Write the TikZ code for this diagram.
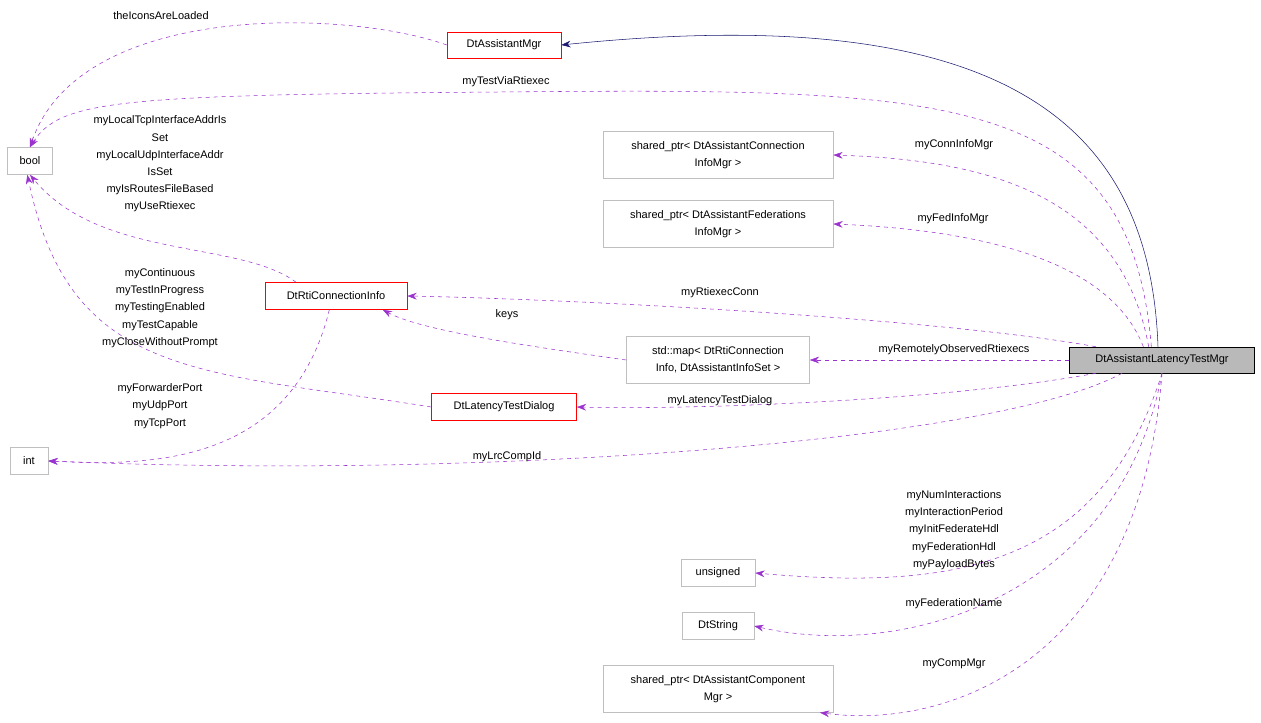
\documentclass[tikz,border=0pt]{standalone}
\usepackage{fontspec}
\setmainfont{Liberation Sans}
\usetikzlibrary{arrows.meta}
\definecolor{dep}{HTML}{9A32CD}
\definecolor{inh}{HTML}{191970}
\begin{document}
\begin{tikzpicture}[x=0.75pt,y=-0.75pt,
  every node/.style={font=\fontsize{8.25}{12.9}\selectfont},
  box/.style={draw=gray!50,fill=white,inner sep=0pt,align=center},
  rbox/.style={draw=red,fill=white,inner sep=0pt,align=center},
  lab/.style={align=center,inner sep=0pt},
  dep/.style={draw=dep,dashed,-{Stealth[length=7pt,width=5pt]}},
  inh/.style={draw=inh,-{Stealth[length=7pt,width=5pt]}}]
\useasboundingbox (0,0) rectangle (1261,723);
\node[draw=black,fill=gray!55,inner sep=0pt,minimum width=138.75pt,minimum height=19.5pt] (L) at (1162,360) {DtAssistantLatencyTestMgr};
\node[rbox,minimum width=85.5pt,minimum height=19.5pt] (AM) at (504,45) {DtAssistantMgr};
\node[box,minimum width=33.75pt,minimum height=20.25pt] (B) at (30,161) {bool};
\node[box,minimum width=172.5pt,minimum height=35pt] (SP1) at (718,155) {shared\_ptr< DtAssistantConnection\\InfoMgr >};
\node[box,minimum width=172.5pt,minimum height=35pt] (SP2) at (718,224) {shared\_ptr< DtAssistantFederations\\InfoMgr >};
\node[rbox,minimum width=106.5pt,minimum height=20.25pt] (R) at (336,296) {DtRtiConnectionInfo};
\node[box,minimum width=137.25pt,minimum height=35pt] (M) at (718,360) {std::map< DtRtiConnection\\Info, DtAssistantInfoSet >};
\node[rbox,minimum width=108.75pt,minimum height=20.25pt] (D) at (504,407) {DtLatencyTestDialog};
\node[box,minimum width=28.5pt,minimum height=20.25pt] (I) at (29,461) {int};
\node[box,minimum width=55.5pt,minimum height=20.25pt] (U) at (718,573) {unsigned};
\node[box,minimum width=54pt,minimum height=20.25pt] (S) at (718,626) {DtString};
\node[box,minimum width=172.5pt,minimum height=35pt] (C) at (718,689) {shared\_ptr< DtAssistantComponent\\Mgr >};

\draw[inh] ([xshift=-3pt]L.north) .. controls (1150,120) and (1000,0) .. (AM.east);
\draw[dep] (AM.west) .. controls (350,10) and (80,0) .. (B.north);
\draw[dep] ([xshift=-8pt]L.north) .. controls (1130,90) and (950,88) .. (500,92) .. controls (120,95) and (60,100) .. (B.north);
\draw[dep] ([xshift=-10pt]L.north) .. controls (1120,190) and (980,160) .. (SP1.east);
\draw[dep] ([xshift=-14pt]L.north) .. controls (1110,260) and (980,230) .. (SP2.east);
\draw[dep] ([xshift=20pt]L.north west) .. controls (950,320) and (600,300) .. (R.east);
\draw[dep] (L.west) -- (M.east);
\draw[dep] (M.west) .. controls (520,345) and (420,330) .. ([xshift=35pt]R.south);
\draw[dep] ([xshift=20pt]L.south west) .. controls (950,400) and (700,410) .. (D.east);
\draw[dep] ([xshift=-30pt]L.south) .. controls (1000,440) and (500,480) .. (I.east);
\draw[dep] (L.south) .. controls (1100,570) and (950,590) .. (U.east);
\draw[dep] (L.south) .. controls (1120,600) and (900,660) .. (S.east);
\draw[dep] (L.south) .. controls (1140,660) and (950,730) .. ([xshift=-10pt]C.south east);
\draw[dep] ([xshift=-30pt]R.north) .. controls (240,240) and (100,260) .. (B.south);
\draw[dep] (D.west) .. controls (200,370) and (70,380) .. ([xshift=-2pt]B.south);
\draw[dep] ([xshift=-5pt]R.south) .. controls (290,470) and (140,465) .. (I.east);

\node[lab] (l1) at (161,16) {theIconsAreLoaded};
\node[lab] (l2) at (506,82) {myTestViaRtiexec};
\node[lab] (l3) at (160,164) {myLocalTcpInterfaceAddrIs\\Set\\myLocalUdpInterfaceAddr\\IsSet\\myIsRoutesFileBased\\myUseRtiexec};
\node[lab] (l4) at (160,308) {myContinuous\\myTestInProgress\\myTestingEnabled\\myTestCapable\\myCloseWithoutPrompt};
\node[lab] (l5) at (160,406) {myForwarderPort\\myUdpPort\\myTcpPort};
\node[lab] (l6) at (507,457) {myLrcCompId};
\node[lab] (l7) at (954,145) {myConnInfoMgr};
\node[lab] (l8) at (953,219) {myFedInfoMgr};
\node[lab] (l9) at (720,293) {myRtiexecConn};
\node[lab] (l10) at (507,315) {keys};
\node[lab] (l11) at (954,350) {myRemotelyObservedRtiexecs};
\node[lab] (l12) at (720,401) {myLatencyTestDialog};
\node[lab] (l13) at (954,530) {myNumInteractions\\myInteractionPeriod\\myInitFederateHdl\\myFederationHdl\\myPayloadBytes};
\node[lab] (l14) at (954,604) {myFederationName};
\node[lab] (l15) at (954,664) {myCompMgr};
\end{tikzpicture}
\end{document}
